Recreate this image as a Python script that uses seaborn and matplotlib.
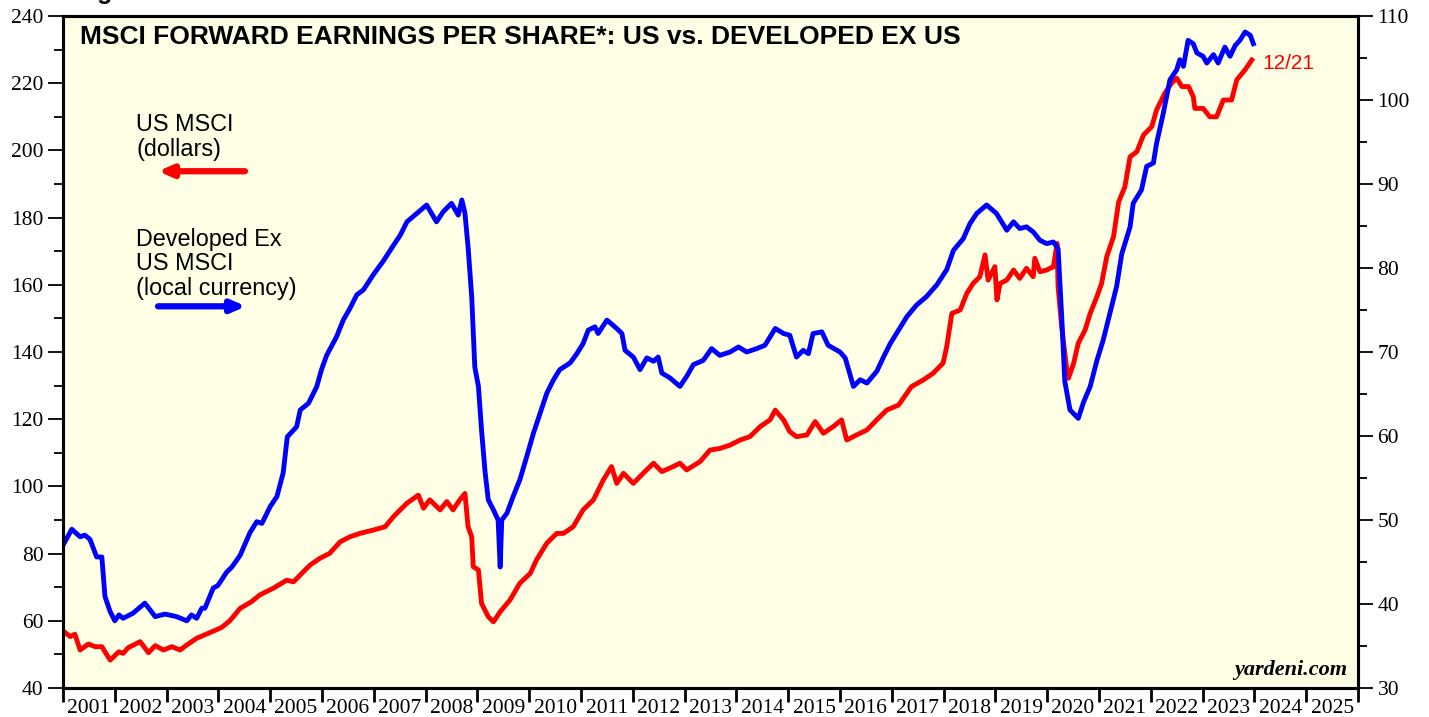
import numpy as np
import pandas as pd
import matplotlib
matplotlib.use("Agg")
import matplotlib.pyplot as plt
from matplotlib.ticker import MultipleLocator, FixedLocator, NullFormatter, FixedFormatter
import seaborn as sns

# ==============================
# Data
# ==============================
# US MSCI forward EPS, dollars (left axis)
us_year = [2001.00, 2001.14, 2001.23, 2001.33, 2001.49, 2001.62, 2001.75, 2001.91,
           2002.08, 2002.16, 2002.26, 2002.49, 2002.65, 2002.78, 2002.94, 2003.10,
           2003.26, 2003.39, 2003.58, 2003.84, 2004.06, 2004.22, 2004.42, 2004.64,
           2004.80, 2005.06, 2005.32, 2005.45, 2005.77, 2005.96, 2006.15, 2006.35,
           2006.54, 2006.73, 2006.99, 2007.22, 2007.38, 2007.64, 2007.86, 2007.96,
           2008.08, 2008.28, 2008.41, 2008.53, 2008.66, 2008.76, 2008.82, 2008.89,
           2008.92, 2009.02, 2009.08, 2009.21, 2009.31, 2009.44, 2009.63, 2009.82,
           2010.02, 2010.14, 2010.34, 2010.53, 2010.66, 2010.85, 2011.04, 2011.24,
           2011.43, 2011.59, 2011.69, 2011.82, 2012.01, 2012.20, 2012.40, 2012.56,
           2012.78, 2012.91, 2013.04, 2013.30, 2013.49, 2013.68, 2013.88, 2014.07,
           2014.26, 2014.46, 2014.65, 2014.75, 2014.91, 2015.03, 2015.16, 2015.36,
           2015.52, 2015.68, 2015.87, 2016.03, 2016.13, 2016.32, 2016.52, 2016.71,
           2016.90, 2017.13, 2017.38, 2017.61, 2017.80, 2017.99, 2018.06, 2018.16,
           2018.32, 2018.45, 2018.57, 2018.70, 2018.80, 2018.86, 2018.99, 2019.03,
           2019.09, 2019.22, 2019.35, 2019.47, 2019.60, 2019.73, 2019.76, 2019.86,
           2019.99, 2020.12, 2020.19, 2020.21, 2020.28, 2020.38, 2020.41, 2020.51,
           2020.60, 2020.73, 2020.83, 2020.96, 2021.05, 2021.15, 2021.28, 2021.38,
           2021.50, 2021.60, 2021.73, 2021.86, 2022.02, 2022.11, 2022.27, 2022.40,
           2022.50, 2022.60, 2022.73, 2022.82, 2022.85, 2023.01, 2023.14, 2023.27,
           2023.40, 2023.56, 2023.66, 2023.82, 2023.95]
us_eps = [57.0, 55.3, 56.0, 51.3, 53.1, 52.3, 52.3, 48.3,
          50.8, 50.3, 52.0, 53.8, 50.5, 52.6, 51.3, 52.3,
          51.3, 52.8, 54.8, 56.5, 58.0, 60.0, 63.7, 65.7,
          67.7, 69.7, 72.1, 71.6, 76.6, 78.6, 80.1, 83.5,
          85.0, 86.0, 87.0, 88.0, 91.0, 95.0, 97.4, 93.5,
          96.0, 93.0, 95.5, 93.0, 96.0, 97.9, 88.0, 85.0,
          76.1, 75.1, 65.2, 61.2, 59.7, 62.7, 66.2, 71.2,
          74.1, 78.1, 83.1, 86.0, 86.0, 88.0, 93.0, 96.0,
          101.9, 105.9, 100.9, 103.9, 100.9, 103.9, 106.9, 104.4,
          105.9, 106.9, 104.9, 107.4, 110.8, 111.3, 112.3, 113.8,
          114.8, 117.8, 119.8, 122.7, 119.8, 116.3, 114.8, 115.3,
          119.3, 115.8, 117.8, 119.8, 113.8, 115.3, 116.8, 119.8,
          122.7, 124.2, 129.7, 131.7, 133.7, 136.7, 141.6, 151.5,
          152.5, 157.5, 160.4, 162.4, 168.9, 161.4, 165.4, 155.5,
          160.4, 161.4, 164.4, 161.9, 164.9, 162.4, 167.9, 163.9,
          164.4, 165.4, 172.3, 159.4, 147.5, 134.5, 132.2, 136.6,
          142.6, 146.5, 151.5, 156.5, 160.4, 168.4, 174.3, 184.7,
          189.2, 198.1, 199.6, 204.6, 207.1, 212.0, 217.0, 220.0,
          221.5, 219.0, 219.0, 216.0, 212.5, 212.5, 210.0, 210.0,
          215.0, 215.0, 221.0, 224.0, 226.9]

# Developed ex US MSCI forward EPS, local currency (right axis)
dev_year = [2001.00, 2001.17, 2001.33, 2001.42, 2001.52, 2001.65, 2001.75, 2001.81,
            2001.91, 2002.00, 2002.08, 2002.16, 2002.35, 2002.58, 2002.78, 2002.97,
            2003.19, 2003.39, 2003.48, 2003.58, 2003.68, 2003.74, 2003.90, 2003.99,
            2004.16, 2004.26, 2004.42, 2004.61, 2004.74, 2004.84, 2005.00, 2005.13,
            2005.25, 2005.33, 2005.51, 2005.58, 2005.74, 2005.90, 2005.99, 2006.09,
            2006.28, 2006.41, 2006.54, 2006.67, 2006.80, 2006.99, 2007.18, 2007.38,
            2007.51, 2007.64, 2007.83, 2008.02, 2008.21, 2008.34, 2008.50, 2008.63,
            2008.70, 2008.76, 2008.82, 2008.89, 2008.95, 2009.02, 2009.08, 2009.15,
            2009.21, 2009.31, 2009.40, 2009.44, 2009.47, 2009.57, 2009.69, 2009.82,
            2009.95, 2010.08, 2010.21, 2010.34, 2010.47, 2010.59, 2010.79, 2010.92,
            2011.04, 2011.14, 2011.27, 2011.33, 2011.50, 2011.69, 2011.79, 2011.85,
            2012.01, 2012.14, 2012.27, 2012.40, 2012.49, 2012.56, 2012.72, 2012.91,
            2013.04, 2013.17, 2013.36, 2013.52, 2013.68, 2013.88, 2014.04, 2014.20,
            2014.39, 2014.55, 2014.75, 2014.91, 2015.03, 2015.16, 2015.29, 2015.39,
            2015.48, 2015.65, 2015.77, 2016.00, 2016.10, 2016.26, 2016.39, 2016.52,
            2016.71, 2016.84, 2016.97, 2017.13, 2017.29, 2017.48, 2017.67, 2017.87,
            2018.06, 2018.19, 2018.38, 2018.51, 2018.64, 2018.83, 2019.02, 2019.22,
            2019.35, 2019.47, 2019.60, 2019.73, 2019.86, 2019.99, 2020.12, 2020.21,
            2020.28, 2020.34, 2020.44, 2020.60, 2020.70, 2020.83, 2020.96, 2021.08,
            2021.21, 2021.34, 2021.44, 2021.60, 2021.66, 2021.82, 2021.92, 2022.05,
            2022.11, 2022.24, 2022.37, 2022.50, 2022.56, 2022.63, 2022.72, 2022.82,
            2022.89, 2023.01, 2023.08, 2023.21, 2023.30, 2023.43, 2023.53, 2023.63,
            2023.72, 2023.82, 2023.92, 2023.98]
dev_eps = [47.0, 48.9, 48.0, 48.2, 47.7, 45.6, 45.6, 40.9,
           39.1, 38.0, 38.7, 38.3, 38.9, 40.1, 38.5, 38.8,
           38.5, 38.0, 38.7, 38.3, 39.5, 39.5, 41.9, 42.2,
           43.8, 44.4, 45.8, 48.5, 49.8, 49.6, 51.6, 52.8,
           55.6, 59.9, 61.1, 63.1, 63.9, 65.9, 67.9, 69.6,
           71.8, 73.8, 75.2, 76.8, 77.4, 79.2, 80.8, 82.7,
           83.9, 85.5, 86.5, 87.5, 85.5, 86.7, 87.7, 86.3,
           88.1, 86.5, 82.5, 76.6, 68.2, 65.9, 60.7, 55.6,
           52.4, 51.2, 50.0, 44.4, 50.0, 50.8, 52.8, 54.8,
           57.5, 60.3, 62.7, 65.1, 66.7, 67.9, 68.7, 69.8,
           71.0, 72.6, 73.0, 72.2, 73.8, 72.8, 72.2, 70.2,
           69.4, 67.9, 69.3, 68.9, 69.4, 67.5, 66.9, 65.9,
           67.1, 68.5, 69.0, 70.4, 69.6, 70.0, 70.6, 70.0,
           70.4, 70.8, 72.8, 72.2, 72.0, 69.4, 70.2, 69.8,
           72.2, 72.4, 70.8, 70.0, 69.3, 65.9, 66.7, 66.3,
           67.7, 69.4, 71.0, 72.6, 74.2, 75.6, 76.6, 78.0,
           79.8, 82.1, 83.5, 85.3, 86.5, 87.5, 86.5, 84.5,
           85.5, 84.7, 84.9, 84.3, 83.3, 82.9, 83.1, 82.3,
           74.2, 66.5, 63.1, 62.1, 64.0, 65.9, 69.0, 71.4,
           74.6, 77.8, 81.7, 84.9, 87.7, 89.3, 92.1, 92.5,
           94.8, 98.4, 102.4, 103.6, 104.8, 104.0, 107.1, 106.7,
           105.6, 105.2, 104.4, 105.4, 104.4, 106.3, 105.2, 106.5,
           107.1, 108.1, 107.7, 106.7]

year_labels = [str(y) for y in range(2001, 2026)]

# ==============================
# Plot
# ==============================
W, H = 1429, 717
fig = plt.figure(figsize=(W / 100, H / 100), dpi=100)
ax = fig.add_axes([63 / W, 1 - 688 / H, (1358 - 63) / W, (688 - 16) / H])
ax2 = ax.twinx()

bg = "#FFFFE5"
ax.set_facecolor(bg)
ax2.patch.set_visible(False)
ax.set_zorder(1)
ax2.set_zorder(2)

us_df = pd.DataFrame({"year": us_year, "eps": us_eps})
dev_df = pd.DataFrame({"year": dev_year, "eps": dev_eps})

sns.lineplot(data=us_df, x="year", y="eps", ax=ax, color="#FF0000", lw=3.5,
             estimator=None, sort=False, legend=False)
sns.lineplot(data=dev_df, x="year", y="eps", ax=ax2, color="#0000FF", lw=3.5,
             estimator=None, sort=False, legend=False)

ax.set_xlim(2001, 2026)
ax.set_ylim(40, 240)
ax2.set_ylim(30, 110)
ax.set_xlabel("")
ax.set_ylabel("")
ax2.set_ylabel("")

serif = "Liberation Serif"
sans = "Liberation Sans"

# x axis: tick marks at year boundaries, labels centred in each year
ax.xaxis.set_major_locator(FixedLocator(np.arange(2001, 2027)))
ax.xaxis.set_major_formatter(NullFormatter())
ax.xaxis.set_minor_locator(FixedLocator(np.arange(2001, 2026) + 0.5))
ax.xaxis.set_minor_formatter(FixedFormatter(year_labels))
ax.tick_params(axis="x", which="major", direction="out", length=10, width=2)
ax.tick_params(axis="x", which="minor", length=0, pad=8)

ax.yaxis.set_major_locator(MultipleLocator(20))
ax.yaxis.set_minor_locator(MultipleLocator(10))
ax.tick_params(axis="y", which="major", direction="out", length=11, width=1.3, pad=3)
ax.tick_params(axis="y", which="minor", direction="out", length=6.5, width=1.3)

ax2.yaxis.set_major_locator(MultipleLocator(10))
ax2.yaxis.set_minor_locator(MultipleLocator(5))
ax2.tick_params(axis="y", which="major", direction="out", length=11, width=1.3, pad=3)
ax2.tick_params(axis="y", which="minor", direction="out", length=6.5, width=1.3)

for a in (ax, ax2):
    for lab in a.get_xticklabels(minor=True) + a.get_yticklabels():
        lab.set_fontfamily(serif)
        lab.set_fontsize(15.5)
    for s in a.spines.values():
        s.set_linewidth(2.2)
        s.set_color("black")

# ==============================
# Text and arrows
# ==============================
ax2.text(0.0131, 0.969, "MSCI FORWARD EARNINGS PER SHARE*: US vs. DEVELOPED EX US",
         transform=ax2.transAxes, fontsize=19, fontweight="bold", family=sans,
         va="center", ha="left")

ax2.text(0.0564, 0.856, "US MSCI\n(dollars)", transform=ax2.transAxes,
         fontsize=16.8, family=sans, va="top", ha="left", linespacing=1.1)
ax2.annotate("", xy=(0.0734, 0.769), xytext=(0.1405, 0.769),
             xycoords="axes fraction", textcoords="axes fraction",
             arrowprops=dict(arrowstyle="-|>,head_length=0.8,head_width=0.35",
                             lw=4.5, color="#FF0000", shrinkA=0, shrinkB=0))

ax2.text(0.0564, 0.685, "Developed Ex\nUS MSCI\n(local currency)",
         transform=ax2.transAxes, fontsize=16.8, family=sans, va="top", ha="left",
         linespacing=1.1)
ax2.annotate("", xy=(0.1413, 0.568), xytext=(0.0734, 0.568),
             xycoords="axes fraction", textcoords="axes fraction",
             arrowprops=dict(arrowstyle="-|>,head_length=0.8,head_width=0.35",
                             lw=4.5, color="#0000FF", shrinkA=0, shrinkB=0))

ax2.text(0.926, 0.929, "12/21", transform=ax2.transAxes, fontsize=15,
         family=sans, color="#FF0000", va="center", ha="left")

ax2.text(0.992, 0.012, "yardeni.com", transform=ax2.transAxes, fontsize=16,
         family=serif, fontweight="bold", fontstyle="italic", va="bottom", ha="right")

# figure caption cut off at the top edge, as in the source
fig.text(75 / W, 1 + 1 / H, "Figure", fontsize=18, fontweight="bold", family=sans,
         va="baseline", ha="left")

fig.savefig("out.png", dpi=100, facecolor="white")
